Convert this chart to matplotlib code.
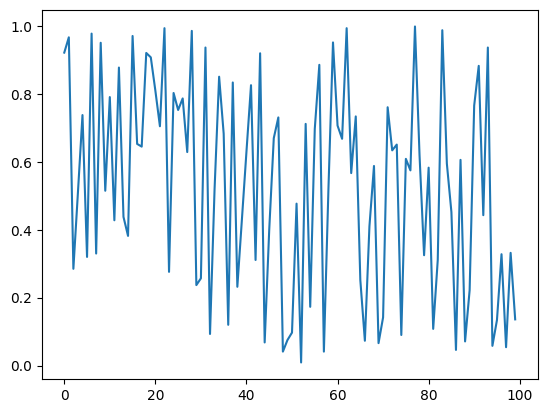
import matplotlib
matplotlib.use("Agg")
import matplotlib.pyplot as plt

# valeurs (100 points)
valeurs = [
    0.922, 0.967, 0.285, 0.510, 0.738, 0.320, 0.978, 0.330, 0.951, 0.515,
    0.791, 0.428, 0.878, 0.438, 0.382, 0.971, 0.653, 0.645, 0.921, 0.908,
    0.810, 0.705, 0.994, 0.276, 0.803, 0.753, 0.787, 0.629, 0.986, 0.237,
    0.257, 0.937, 0.093, 0.520, 0.851, 0.683, 0.120, 0.834, 0.232, 0.430,
    0.630, 0.826, 0.311, 0.920, 0.068, 0.400, 0.670, 0.731, 0.041, 0.075,
    0.097, 0.477, 0.009, 0.712, 0.173, 0.697, 0.886, 0.041, 0.520, 0.952,
    0.707, 0.668, 0.994, 0.567, 0.734, 0.252, 0.073, 0.410, 0.588, 0.066,
    0.142, 0.761, 0.634, 0.651, 0.090, 0.609, 0.575, 0.999, 0.620, 0.325,
    0.583, 0.108, 0.311, 0.988, 0.595, 0.452, 0.046, 0.606, 0.071, 0.222,
    0.766, 0.883, 0.443, 0.937, 0.058, 0.134, 0.328, 0.054, 0.332, 0.136,
]

plt.figure(figsize=(6.4, 4.8), dpi=100)
plt.plot(valeurs)
plt.savefig("out.png", dpi=100, bbox_inches="tight")
